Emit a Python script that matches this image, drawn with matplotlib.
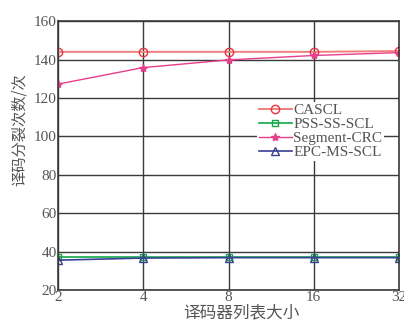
import numpy as np
import matplotlib
matplotlib.use('Agg')
import matplotlib.pyplot as plt

plt.rcParams['font.family'] = ['Liberation Serif', 'Noto Sans CJK SC']

list_size = [2, 4, 8, 16, 32]
cascl = [144, 144, 144, 144, 144.4]
pss_ss_scl = [37, 37, 37, 37, 37]
segment_crc = [127.2, 135.8, 139.8, 142.1, 143.6]
epc_ms_scl = [35.5, 36.6, 36.8, 36.8, 36.8]

fig = plt.figure(figsize=(4.04, 3.2), dpi=100)
ax = fig.add_axes([0.1436, 0.094, 0.844, 0.84])

ax.plot(list_size, cascl, color='#f07f7f', lw=1.4, marker='o', ms=6,
        mfc='none', mec='#e8323c', mew=1.0, label='CASCL')
ax.plot(list_size, pss_ss_scl, color='#12a84a', lw=1.2, marker='s', ms=5,
        mfc='none', mec='#12a84a', mew=1.0, label='PSS-SS-SCL')
ax.plot(list_size, segment_crc, color='#e83e8c', lw=1.0, marker='*', ms=6,
        mfc='#e83e8c', mec='#e83e8c', label='Segment-CRC')
ax.plot(list_size, epc_ms_scl, color='#3b3f93', lw=1.2, marker='^', ms=6,
        mfc='none', mec='#3b3f93', mew=1.0, label='EPC-MS-SCL')

ax.set_xscale('log', base=2)
ax.set_xlim(2, 32)
ax.set_xticks(list_size)
ax.set_xticklabels([str(v) for v in list_size])
ax.minorticks_off()
ax.set_ylim(20, 160)
ax.set_yticks(np.arange(20, 161, 20))

ax.grid(True, color='#3a3a3a', lw=1.0)
ax.set_axisbelow(True)
for s in ax.spines.values():
    s.set_color('#3a3a3a')
    s.set_linewidth(1.2)
ax.tick_params(length=0, pad=1, labelsize=11, colors='#555555')

ax.set_xlabel('译码器列表大小', fontsize=12, color='#555555', labelpad=0,
              family=['Noto Sans CJK SC'])
ax.xaxis.set_label_coords(0.537, -0.055)
ax.set_ylabel('译码分裂次数/次', fontsize=11, color='#555555', labelpad=2,
              family=['Noto Sans CJK SC'])
ax.yaxis.set_label_coords(-0.09, 0.595)

leg = ax.legend(loc='upper left', bbox_to_anchor=(0.585, 0.70), frameon=True,
                fontsize=11, handlelength=2.15, handletextpad=0.1,
                labelspacing=0.02, borderpad=0.1, borderaxespad=0)
leg.get_frame().set_edgecolor('none')
leg.get_frame().set_facecolor('white')
leg.get_frame().set_alpha(1)
for t in leg.get_texts():
    t.set_color('#555555')

fig.savefig('out.png', dpi=100)
